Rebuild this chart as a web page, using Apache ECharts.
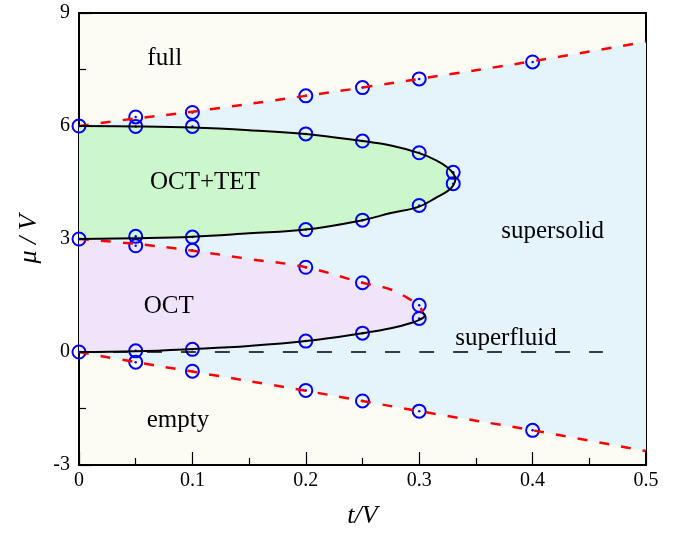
<!DOCTYPE html>
<html>
<head>
<meta charset="utf-8">
<script src="https://cdn.jsdelivr.net/npm/echarts@6/dist/echarts.min.js"></script>
<style>html,body{margin:0;padding:0;background:#fff}#c{width:689px;height:537px}</style>
</head>
<body>
<div id="c"></div>
<script>
// ---- data (t/V, mu/V) ----
var xTickLabels = ['0', '0.1', '0.2', '0.3', '0.4', '0.5'];
var yTickLabels = ['-3', '0', '3', '6', '9'];

// upper red dashed boundary (full / supersolid)
var upperRed = [[0,6.0],[0.05,6.2],[0.1,6.38],[0.2,6.8],[0.25,7.02],[0.3,7.25],[0.4,7.72],[0.5,8.24]];
// lower red dashed boundary (empty / superfluid)
var lowerRed = [[0,0],[0.05,-0.27],[0.1,-0.52],[0.2,-1.03],[0.25,-1.3],[0.3,-1.57],[0.4,-2.08],[0.5,-2.63]];
// OCT+TET lobe (solid black, closed)
var lobe = [[0,6.0],[0.05,5.99],[0.1,5.96],[0.15,5.89],[0.2,5.79],[0.25,5.6],[0.275,5.48],[0.3,5.28],[0.315,5.09],[0.325,4.9],[0.33,4.74],[0.332,4.6],[0.33,4.42],[0.325,4.27],[0.315,4.1],[0.3,3.86],[0.275,3.69],[0.25,3.5],[0.2,3.25],[0.15,3.15],[0.1,3.06],[0.05,3.02],[0,3.0]];
// OCT upper boundary (red dashed)
var octRed = [[0,3.0],[0.05,2.87],[0.1,2.69],[0.15,2.47],[0.2,2.25],[0.25,1.84],[0.275,1.66],[0.29,1.43],[0.3,1.23],[0.303,1.05]];
// OCT lower boundary (solid black)
var octBlack = [[0,0],[0.05,0.02],[0.1,0.08],[0.15,0.16],[0.2,0.29],[0.25,0.5],[0.275,0.63],[0.295,0.79],[0.303,0.9],[0.305,0.97],[0.303,1.05]];
// mu = 0 dashed line
var zeroLine = [[0,0],[0.462,0]];
// measured points (blue circles)
var circles = [[0,6],[0,3],[0,0],
  [0.05,6.24],[0.05,5.99],[0.05,3.07],[0.05,2.82],[0.05,0.03],[0.05,-0.27],
  [0.1,6.36],[0.1,5.99],[0.1,3.05],[0.1,2.70],[0.1,0.07],[0.1,-0.51],
  [0.2,6.8],[0.2,5.79],[0.2,3.25],[0.2,2.25],[0.2,0.29],[0.2,-1.02],
  [0.25,7.02],[0.25,5.6],[0.25,3.5],[0.25,1.84],[0.25,0.5],[0.25,-1.3],
  [0.3,7.25],[0.3,5.29],[0.3,3.89],[0.3,1.24],[0.3,0.89],[0.3,-1.57],
  [0.33,4.77],[0.33,4.47],
  [0.4,7.7],[0.4,-2.08]];
// region labels
var regionNames = ['full', 'OCT+TET', 'supersolid', 'OCT', 'superfluid', 'empty'];
var regionAt = [[0.0756,7.8],[0.111,4.5],[0.4177,3.2],[0.0792,1.21],[0.3765,0.364],[0.0873,-1.81]];

// ---- build ----
var serif = 'Liberation Serif, Times New Roman, serif';
var blueRegion = upperRed.concat(lowerRed.slice().reverse());
var octRegion = octRed.concat(octBlack.slice().reverse());

function polySeries(points, color, z) {
  return {
    type: 'custom', coordinateSystem: 'cartesian2d', silent: true, z: z,
    data: points, encode: {x: 0, y: 1},
    renderItem: function (params, api) {
      if (params.dataIndex !== 0) return null;
      return {
        type: 'polygon',
        shape: {points: points.map(function (p) { return api.coord(p); })},
        style: {fill: color, stroke: null}
      };
    }
  };
}
function lineSeries(points, color, width, dash, z) {
  return {
    type: 'line', data: points, smooth: 0.4, showSymbol: false, symbol: 'none', silent: true, z: z,
    lineStyle: {color: color, width: width, type: dash, opacity: 1}
  };
}

var chart = echarts.init(document.getElementById('c'), null, {renderer: 'canvas'});
chart.setOption({
  animation: false,
  backgroundColor: '#ffffff',
  grid: {left: 79, right: 43, top: 13, bottom: 72, show: true, backgroundColor: '#fcfcf4', borderColor: '#000', borderWidth: 2},
  xAxis: {
    type: 'value', min: 0, max: 0.5, interval: 0.1,
    name: 't/V', nameLocation: 'middle', nameGap: 38,
    nameTextStyle: {fontFamily: serif, fontSize: 26, fontStyle: 'italic', color: '#000'},
    axisLine: {show: true, onZero: false, lineStyle: {color: '#000', width: 2}},
    axisTick: {show: true, inside: true, length: 13, lineStyle: {color: '#000', width: 1.2}},
    minorTick: {show: true, splitNumber: 2, length: 7, lineStyle: {color: '#000', width: 1.2}},
    splitLine: {show: false},
    axisLabel: {fontFamily: serif, fontSize: 20, color: '#000', margin: 6,
      formatter: function (v) { return xTickLabels[Math.round(v * 10)]; }}
  },
  yAxis: {
    type: 'value', min: -3, max: 9, interval: 3,
    name: 'μ / V', nameLocation: 'middle', nameGap: 34,
    nameTextStyle: {fontFamily: serif, fontSize: 26, fontStyle: 'italic', color: '#000'},
    axisLine: {show: true, onZero: false, lineStyle: {color: '#000', width: 2}},
    axisTick: {show: true, inside: true, length: 13, lineStyle: {color: '#000', width: 1.2}},
    minorTick: {show: true, splitNumber: 2, length: 7, lineStyle: {color: '#000', width: 1.2}},
    splitLine: {show: false},
    axisLabel: {fontFamily: serif, fontSize: 20, color: '#000', margin: 9,
      formatter: function (v) { return yTickLabels[Math.round((v + 3) / 3)]; }}
  },
  series: [
    polySeries(blueRegion, '#e5f3fa', 1),
    polySeries(lobe, '#ccf7cc', 2),
    polySeries(octRegion, '#efe4fa', 2),
    {
      type: 'scatter', data: circles, symbol: 'circle', symbolSize: 13, clip: false, silent: true, z: 4,
      itemStyle: {color: 'rgba(0,0,0,0)', borderColor: '#0000ff', borderWidth: 2, opacity: 1}
    },
    {
      type: 'scatter', data: circles, symbol: 'circle', symbolSize: 2.5, clip: false, silent: true, z: 4,
      itemStyle: {color: '#0000ff', opacity: 1}
    },
    lineSeries(zeroLine, '#000', 1.6, [15, 19], 5),
    lineSeries(upperRed, '#ff0000', 2.5, [10, 12], 6),
    lineSeries(lowerRed, '#ff0000', 2.5, [10, 12], 6),
    lineSeries(octRed, '#ff0000', 2.5, [10, 12], 6),
    lineSeries(lobe, '#000', 2, 'solid', 6),
    lineSeries(octBlack, '#000', 2, 'solid', 6),
    {
      type: 'scatter', symbolSize: 0, silent: true, z: 7,
      itemStyle: {opacity: 1},
      data: regionNames.map(function (n, i) { return {name: n, value: regionAt[i]}; }),
      label: {show: true, position: 'inside', formatter: '{b}', fontFamily: serif, fontSize: 25,
        color: '#000', opacity: 1, textBorderWidth: 0}
    }
  ]
});
</script>
</body>
</html>
